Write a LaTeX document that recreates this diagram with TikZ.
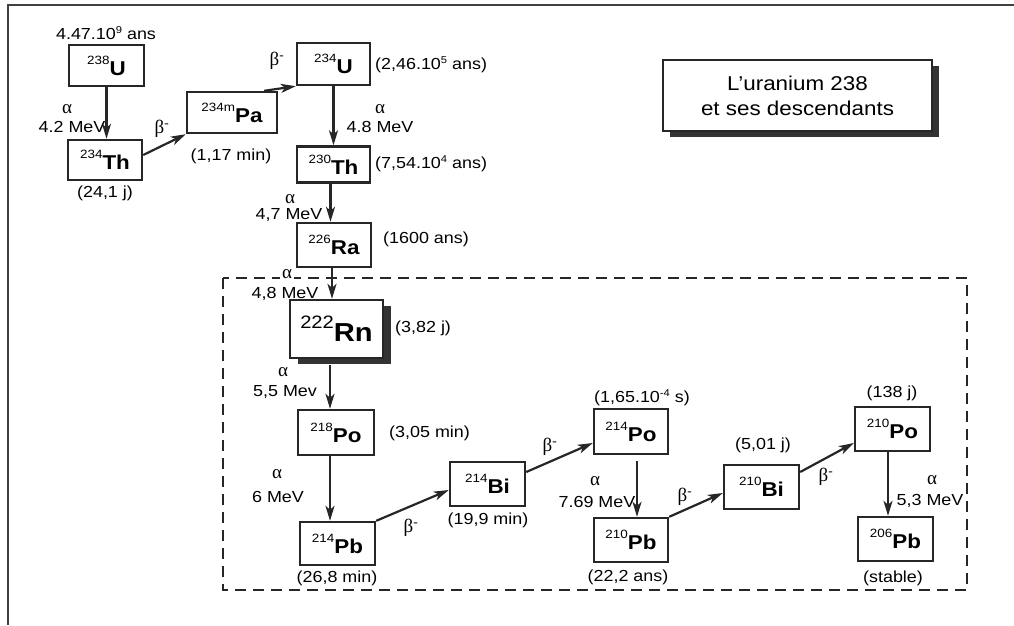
\documentclass[tikz,border=0pt]{standalone}
\usepackage{fontspec}
\setmainfont{Liberation Sans}[FakeStretch=1.12]
\newfontfamily\grk{Liberation Serif}
\usetikzlibrary{arrows.meta,calc,shadows}
\newcommand{\iso}[2]{\raisebox{11pt}{\fontsize{12}{12}\selectfont\mdseries #1}#2}
\newcommand{\sexp}[1]{\raisebox{6pt}{\fontsize{10}{10}\selectfont #1}}
\begin{document}
\begin{tikzpicture}[x=1pt,y=-1pt,
  box/.style={draw=black!85, line width=2.4pt, fill=white, inner sep=0pt,
    minimum width=75pt, minimum height=44pt, font=\fontsize{20}{22}\selectfont\bfseries},
  arr/.style={draw=black!85, line width=2.2pt, -{Stealth[length=15pt,width=9pt,inset=4pt]}},
  lab/.style={inner sep=0pt, font=\fontsize{16}{18}\selectfont},
  gl/.style={inner sep=0pt, font=\grk\fontsize{19}{20}\selectfont},
  titlebox/.style={draw=black!85, line width=1.8pt, fill=white, align=center,
    minimum width=269pt, minimum height=71pt, inner sep=0pt,
    font=\fontsize{20}{25}\selectfont,
    drop shadow={shadow xshift=7pt, shadow yshift=-6pt, fill=black!80, opacity=1}},
  frame/.style={draw=black!75, line width=1.8pt},
  dashbox/.style={draw=black!85, line width=2.4pt, dash pattern=on 11pt off 7pt}
]
\useasboundingbox (0,0) rectangle (1014,625);
\draw[frame] (8,625) -- (8,5) -- (1014,5);
\draw[dashbox] (223,278) rectangle (967,590);

% title
\node[titlebox] (title) at (797.5,95.5) {L'uranium 238\\et ses descendants};

% element boxes
\node[box, minimum height=41pt] (U238) at (106.5,65.5) {\iso{238}{U}};
\node[box, minimum width=74pt, minimum height=40pt] (Th234) at (105,160) {\iso{234}{Th}};
\node[box, minimum width=90pt, minimum height=41pt] (Pa234) at (232,112.5) {\iso{234m}{Pa}};
\node[box, minimum width=73pt, minimum height=42pt] (U234) at (333.5,64) {\iso{234}{U}};
\node[box, minimum width=73pt, minimum height=36pt] (Th230) at (333.5,164.5) {\iso{230}{Th}};
\node[box, minimum width=74pt] (Ra226) at (334,245) {\iso{226}{Ra}};
\node[box, minimum width=93pt, minimum height=58pt,
  drop shadow={shadow xshift=8pt, shadow yshift=-6pt, fill=black!80, opacity=1}] (Rn222) at (336.5,329)
  {\raisebox{13pt}{\fontsize{18}{18}\selectfont\mdseries 222}\fontsize{26}{26}\selectfont Rn};
\node[box, minimum width=76pt, minimum height=45pt] (Po218) at (336,432.5) {\iso{218}{Po}};
\node[box, minimum height=43pt] (Pb214) at (337.5,543.5) {\iso{214}{Pb}};
\node[box] (Bi214) at (487.5,484) {\iso{214}{Bi}};
\node[box, minimum width=74pt, minimum height=45pt] (Po214) at (631,431.5) {\iso{214}{Po}};
\node[box, minimum width=74pt] (Pb210) at (631,540) {\iso{210}{Pb}};
\node[box] (Bi210) at (761.5,487) {\iso{210}{Bi}};
\node[box] (Po210) at (892.5,429) {\iso{210}{Po}};
\node[box] (Pb206) at (895.5,539) {\iso{206}{Pb}};

% vertical (alpha) arrows
\draw[arr] (U238.south) -- (U238.south |- Th234.north);
\draw[arr] (U234.south) -- (U234.south |- Th230.north);
\draw[arr] ([xshift=-3pt]Th230.south) -- ([xshift=-3pt]Th230.south |- Ra226.north);
\draw[arr] ([xshift=-2pt]Ra226.south) -- ([xshift=-2pt]Ra226.south |- Rn222.north);
\draw[arr] ([xshift=-6.5pt,yshift=-6pt]Rn222.south) -- ([xshift=-6.5pt]Rn222.south |- Po218.north);
\draw[arr] ([xshift=-6pt]Po218.south) -- ([xshift=-6pt]Po218.south |- Pb214.north);
\draw[arr] ([xshift=6pt,yshift=-6pt]Po214.south) -- ([xshift=6pt]Po214.south |- Pb210.north);
\draw[arr] ([xshift=-4.5pt]Po210.south) -- ([xshift=-4.5pt]Po210.south |- Pb206.north);

% diagonal (beta) arrows
\draw[arr] ([yshift=5pt]Th234.east) -- (Pa234.south west);
\draw[arr] ([xshift=-14pt]Pa234.north east) -- (U234.south west);
\draw[arr] (Pb214.north east) -- ([yshift=-6pt]Bi214.west);
\draw[arr] ([yshift=12pt]Bi214.east) -- ([yshift=-11.5pt]Po214.west);
\draw[arr] (Pb210.north east) -- ([yshift=-6pt]Bi210.west);
\draw[arr] ([yshift=15pt]Bi210.east) -- ([yshift=-14pt]Po210.west);

% half-lives
\node[lab] (tU238) at (106,33) {4.47.10\sexp{9} ans};
\node[lab] (tTh234) at (105,193) {(24,1 j)};
\node[lab] (tPa) at (231,156) {(1,17 min)};
\node[lab, anchor=west] (tU234) at (375,65) {(2,46.10\sexp{5} ans)};
\node[lab, anchor=west] (tTh230) at (375,164) {(7,54.10\sexp{4} ans)};
\node[lab, anchor=west] (tRa) at (383,239) {(1600 ans)};
\node[lab, anchor=west] (tRn) at (395,328) {(3,82 j)};
\node[lab, anchor=west] (tPo218) at (389,433) {(3,05 min)};
\node[lab] (tPb214) at (337,578) {(26,8 min)};
\node[lab] (tBi214) at (488,520) {(19,9 min)};
\node[lab] (tPo214) at (642,398) {(1,65.10\sexp{-4} s)};
\node[lab] (tPb210) at (628,577) {(22,2 ans)};
\node[lab] (tBi210) at (763,445) {(5,01 j)};
\node[lab] (tPo210) at (892,393) {(138 j)};
\node[lab] (tPb206) at (893,578) {(stable)};

% alpha labels
\node[gl] (a1) at (67,109) {α};
\node[lab] (e1) at (72,127) {4.2 MeV};
\node[gl] (a2) at (380,109) {α};
\node[lab] (e2) at (380,127) {4.8 MeV};
\node[gl] (a3) at (290,199) {α};
\node[lab] (e3) at (289,215) {4,7 MeV};
\node[gl, fill=white, inner xsep=2pt] (a4) at (287,274) {α};
\node[lab] (e4) at (285,294) {4,8 MeV};
\node[gl] (a5) at (283,372) {α};
\node[lab] (e5) at (285,392) {5,5 Mev};
\node[gl] (a6) at (277,474) {α};
\node[lab] (e6) at (278,497) {6 MeV};
\node[gl] (a7) at (595,481) {α};
\node[lab] (e7) at (597,502) {7.69 MeV};
\node[gl] (a8) at (932,480) {α};
\node[lab] (e8) at (930,501) {5,3 MeV};

% beta labels
\node[gl] (b1) at (162,129) {β\textsuperscript{-}};
\node[gl] (b2) at (277,61) {β\textsuperscript{-}};
\node[gl] (b3) at (411,528) {β\textsuperscript{-}};
\node[gl] (b4) at (550,447) {β\textsuperscript{-}};
\node[gl] (b5) at (685,497) {β\textsuperscript{-}};
\node[gl] (b6) at (826,477) {β\textsuperscript{-}};
\end{tikzpicture}
\end{document}
